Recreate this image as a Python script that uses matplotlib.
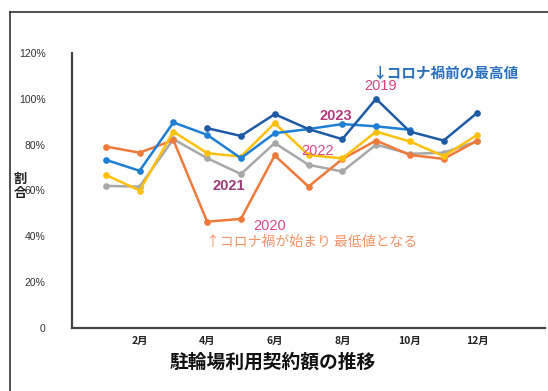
import numpy as np
import matplotlib
matplotlib.use("Agg")
import matplotlib.pyplot as plt
from matplotlib.lines import Line2D

plt.rcParams['font.family'] = ['Noto Sans CJK JP', 'DejaVu Sans']

# 月別の割合 (%)
months = np.arange(1, 13)
tick_months = [2, 4, 6, 8, 10, 12]
tick_labels = ['2月', '4月', '6月', '8月', '10月', '12月']
y_ticks = [0, 20, 40, 60, 80, 100, 120]
y_tick_labels = ['0', '20%', '40%', '60%', '80%', '100%', '120%']

nan = np.nan
v2019 = [nan, nan, nan, 87.2, 83.8, 93.3, 86.8, 82.4, 100.0, 85.7, 81.8, 94.0]
v2020 = [79.2, 76.5, 82.0, 46.4, 47.6, 75.3, 61.7, 73.7, 81.8, 75.5, 73.8, 81.8]
v2021 = [62.0, 61.7, 82.4, 74.1, 67.2, 80.7, 71.2, 68.3, 80.0, 76.0, 76.5, 81.5]
v2022 = [66.8, 60.0, 85.7, 76.3, 74.8, 89.4, 75.5, 74.0, 85.7, 81.4, 75.0, 84.3]
v2023 = [73.4, 68.6, 89.7, 84.3, 74.1, 85.0, 86.8, 89.0, 88.0, 86.5, nan, nan]

series = [
    (v2021, '#a8a8a8'),
    (v2020, '#ee7a3c'),
    (v2022, '#ffc10e'),
    (v2023, '#1f7fd4'),
    (v2019, '#1f5aa6'),
]

fig = plt.figure(figsize=(5.48, 3.91), dpi=100)
fig.patch.set_facecolor('white')

# outer frame
fig.add_artist(Line2D([9.5 / 548, 9.5 / 548], [0, 1 - 12 / 391],
                      transform=fig.transFigure, color='#333333', lw=1.2))
fig.add_artist(Line2D([9.5 / 548, 1], [1 - 12 / 391, 1 - 12 / 391],
                      transform=fig.transFigure, color='#333333', lw=1.2))

ax = fig.add_axes([72 / 548, 63 / 391, 473 / 548, 275 / 391])
for vals, col in series:
    ax.plot(months, vals, color=col, lw=1.8, marker='o', markersize=4.8,
            markeredgewidth=0, zorder=3)

ax.set_xlim(0, 14)
ax.set_ylim(0, 120)
ax.set_xticks(tick_months)
ax.set_xticklabels(tick_labels, fontsize=7.5, fontweight='bold', color='#222222')
ax.set_yticks(y_ticks)
ax.set_yticklabels(y_tick_labels, fontsize=7.5, color='#333333',
                   family=['Liberation Sans', 'DejaVu Sans'])
ax.tick_params(length=0, pad=19, axis='y')
ax.tick_params(length=0, pad=6, axis='x')
for s in ['top', 'right']:
    ax.spines[s].set_visible(False)
for s in ['left', 'bottom']:
    ax.spines[s].set_color('#444444')
    ax.spines[s].set_linewidth(1.6)

# year labels
num_font = ['Liberation Sans', 'DejaVu Sans']
ax.text(9.14, 105.5, '2019', color='#d9407e', fontsize=10.5, ha='center', va='center', family=num_font)
ax.text(7.8, 92.3, '2023', color='#b23c7c', fontsize=10.5, fontweight='bold', ha='center', va='center', family=num_font)
ax.text(7.27, 77.3, '2022', color='#e0458c', fontsize=10.5, ha='center', va='center', family=num_font)
ax.text(4.64, 62.0, '2021', color='#9e3a78', fontsize=10.5, fontweight='bold', ha='center', va='center', family=num_font)
ax.text(5.85, 44.5, '2020', color='#e8458e', fontsize=10.5, ha='center', va='center', family=num_font)

# notes
ax.text(8.9, 111.4, '↓コロナ禍前の最高値', color='#2a6fc0', fontsize=10.5, fontweight='bold',
        ha='left', va='center')
ax.text(3.96, 37.6, '↑コロナ禍が始まり 最低値となる', color='#f39468', fontsize=10,
        ha='left', va='center')

# axis titles
fig.text(273 / 548, 1 - 362 / 391, '駐輪場利用契約額の推移', fontsize=13.5,
         fontweight='bold', ha='center', va='center', color='#111111')
fig.text(20 / 548, 1 - 186 / 391, '割\n合', fontsize=9.5, fontweight='bold',
         ha='center', va='center', color='#222222', linespacing=1.0)

fig.savefig('out.png', dpi=100, facecolor='white')
